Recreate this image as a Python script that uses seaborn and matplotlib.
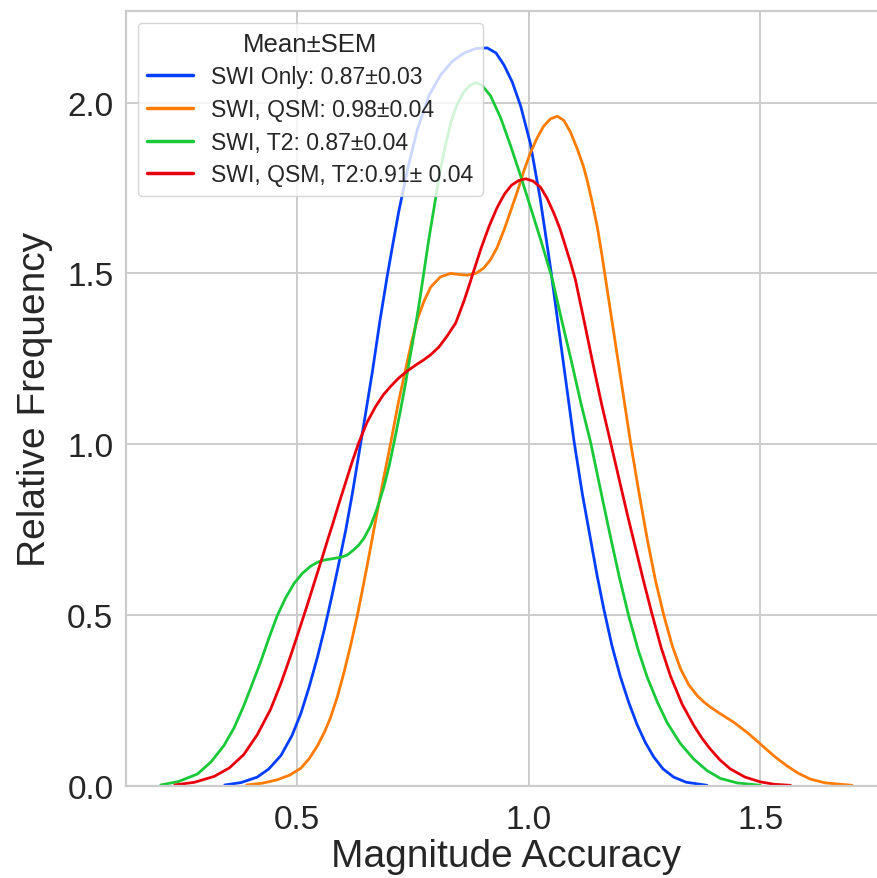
import matplotlib
matplotlib.use("Agg")
import matplotlib.pyplot as plt
import pandas as pd
import seaborn as sns

# Kernel density curves of magnitude accuracy for each input combination
labels = [
    "SWI Only: 0.87\u00b10.03",
    "SWI, QSM: 0.98\u00b10.04",
    "SWI, T2: 0.87\u00b10.04",
    "SWI, QSM, T2:0.91\u00b1 0.04",
]

swi_x = [0.345, 0.380, 0.415, 0.440, 0.466, 0.490, 0.509, 0.527, 0.545, 0.560,
         0.575, 0.590, 0.606, 0.620, 0.634, 0.648, 0.663, 0.680, 0.695, 0.708,
         0.720, 0.740, 0.760, 0.785, 0.810, 0.835, 0.861, 0.886, 0.911, 0.930,
         0.947, 0.965, 0.983, 1.004, 1.025, 1.047, 1.072, 1.098, 1.116, 1.134,
         1.148, 1.162, 1.180, 1.198, 1.216, 1.234, 1.252, 1.270, 1.290, 1.313,
         1.340, 1.385]
swi_y = [0.003, 0.010, 0.026, 0.050, 0.089, 0.148, 0.212, 0.290, 0.378, 0.460,
         0.550, 0.645, 0.750, 0.855, 0.970, 1.085, 1.210, 1.365, 1.490, 1.590,
         1.680, 1.810, 1.920, 2.020, 2.080, 2.120, 2.145, 2.158, 2.160, 2.145,
         2.110, 2.060, 1.990, 1.880, 1.720, 1.520, 1.270, 1.010, 0.855, 0.720,
         0.615, 0.520, 0.410, 0.320, 0.245, 0.180, 0.127, 0.085, 0.050, 0.026,
         0.011, 0.002]

qsm_x = [0.392, 0.425, 0.458, 0.485, 0.509, 0.527, 0.545, 0.560, 0.573, 0.588,
         0.602, 0.617, 0.631, 0.642, 0.652, 0.661, 0.670, 0.686, 0.703, 0.719,
         0.735, 0.748, 0.760, 0.775, 0.789, 0.810, 0.832, 0.850, 0.868, 0.886,
         0.903, 0.918, 0.932, 0.948, 0.962, 0.976, 0.990, 1.004, 1.018, 1.032,
         1.047, 1.062, 1.076, 1.090, 1.105, 1.118, 1.126, 1.137, 1.148, 1.157,
         1.166, 1.184, 1.202, 1.220, 1.238, 1.256, 1.274, 1.292, 1.310, 1.328,
         1.346, 1.364, 1.378, 1.392, 1.414, 1.442, 1.473, 1.504, 1.530, 1.557,
         1.582, 1.608, 1.640, 1.698]
qsm_y = [0.003, 0.008, 0.018, 0.032, 0.052, 0.080, 0.118, 0.158, 0.200, 0.262,
         0.332, 0.415, 0.500, 0.575, 0.645, 0.710, 0.775, 0.890, 1.005, 1.120,
         1.220, 1.300, 1.365, 1.420, 1.460, 1.490, 1.500, 1.497, 1.495, 1.500,
         1.515, 1.540, 1.575, 1.630, 1.685, 1.740, 1.800, 1.853, 1.895, 1.930,
         1.952, 1.960, 1.948, 1.915, 1.865, 1.815, 1.775, 1.710, 1.638, 1.565,
         1.485, 1.325, 1.165, 1.005, 0.860, 0.722, 0.600, 0.498, 0.410, 0.342,
         0.295, 0.264, 0.246, 0.231, 0.211, 0.187, 0.155, 0.118, 0.087, 0.059,
         0.037, 0.020, 0.009, 0.002]

t2_x = [0.207, 0.245, 0.286, 0.315, 0.343, 0.365, 0.386, 0.404, 0.422, 0.440,
        0.458, 0.476, 0.494, 0.512, 0.530, 0.545, 0.559, 0.572, 0.585, 0.597,
        0.609, 0.622, 0.634, 0.645, 0.659, 0.673, 0.688, 0.700, 0.713, 0.724,
        0.735, 0.745, 0.753, 0.764, 0.774, 0.785, 0.796, 0.808, 0.820, 0.833,
        0.846, 0.860, 0.873, 0.886, 0.900, 0.918, 0.940, 0.961, 0.983, 1.004,
        1.027, 1.051, 1.072, 1.093, 1.113, 1.134, 1.154, 1.175, 1.196, 1.216,
        1.236, 1.256, 1.278, 1.299, 1.327, 1.356, 1.385, 1.414, 1.450, 1.500]
t2_y = [0.003, 0.013, 0.035, 0.070, 0.118, 0.170, 0.235, 0.298, 0.362, 0.432,
        0.498, 0.550, 0.592, 0.622, 0.643, 0.655, 0.661, 0.664, 0.667, 0.670,
        0.676, 0.690, 0.705, 0.725, 0.760, 0.810, 0.875, 0.940, 1.025, 1.100,
        1.180, 1.260, 1.320, 1.410, 1.500, 1.600, 1.690, 1.790, 1.870, 1.945,
        1.995, 2.030, 2.050, 2.058, 2.050, 2.020, 1.955, 1.875, 1.785, 1.695,
        1.595, 1.485, 1.360, 1.240, 1.120, 1.005, 0.875, 0.740, 0.610, 0.498,
        0.400, 0.318, 0.245, 0.185, 0.125, 0.079, 0.045, 0.022, 0.009, 0.002]

all_x = [0.237, 0.280, 0.322, 0.355, 0.386, 0.415, 0.444, 0.466, 0.487, 0.505,
         0.523, 0.538, 0.552, 0.565, 0.578, 0.592, 0.606, 0.620, 0.634, 0.652,
         0.670, 0.687, 0.703, 0.721, 0.739, 0.757, 0.775, 0.789, 0.807, 0.825,
         0.843, 0.861, 0.872, 0.882, 0.898, 0.915, 0.932, 0.948, 0.963, 0.979,
         0.994, 1.010, 1.026, 1.040, 1.055, 1.068, 1.080, 1.091, 1.101, 1.120,
         1.139, 1.158, 1.177, 1.195, 1.213, 1.231, 1.248, 1.266, 1.286, 1.306,
         1.331, 1.356, 1.374, 1.392, 1.413, 1.435, 1.467, 1.500, 1.530, 1.565]
all_y = [0.003, 0.011, 0.028, 0.053, 0.092, 0.150, 0.225, 0.300, 0.381, 0.455,
         0.530, 0.595, 0.655, 0.712, 0.768, 0.830, 0.890, 0.950, 1.005, 1.065,
         1.110, 1.145, 1.170, 1.195, 1.215, 1.232, 1.248, 1.262, 1.285, 1.318,
         1.355, 1.420, 1.465, 1.508, 1.575, 1.638, 1.692, 1.732, 1.758, 1.772,
         1.777, 1.770, 1.752, 1.720, 1.675, 1.630, 1.578, 1.530, 1.482, 1.360,
         1.235, 1.115, 1.005, 0.900, 0.795, 0.695, 0.600, 0.505, 0.405, 0.322,
         0.240, 0.178, 0.140, 0.108, 0.076, 0.050, 0.026, 0.012, 0.005, 0.002]

frames = []
for lab, xs, ys in zip(labels, [swi_x, qsm_x, t2_x, all_x],
                       [swi_y, qsm_y, t2_y, all_y]):
    frames.append(pd.DataFrame({"accuracy": xs, "density": ys, "group": lab}))
df = pd.concat(frames, ignore_index=True)

sns.set_theme(style="whitegrid")
plt.rcParams["font.family"] = ["Liberation Sans", "DejaVu Sans"]
plt.rcParams["axes.edgecolor"] = "#cccccc"
plt.rcParams["grid.color"] = "#cccccc"

fig = plt.figure(figsize=(8.78, 8.79), dpi=100)
ax = fig.add_axes([126 / 878, (879 - 787) / 879, (887 - 126) / 878, (787 - 12) / 879])

palette = sns.color_palette("bright", 4)
sns.lineplot(data=df, x="accuracy", y="density", hue="group", palette=palette,
             estimator=None, sort=False, linewidth=2.0, ax=ax)

ax.set_xlim(0.132, 1.773)
ax.set_ylim(0, 2.268)
ax.set_xticks([0.5, 1.0, 1.5])
ax.set_yticks([0.0, 0.5, 1.0, 1.5, 2.0])
ax.tick_params(axis="both", labelsize=24, colors="#262626", length=0)
ax.tick_params(axis="x", pad=13)
ax.tick_params(axis="y", pad=9)
ax.set_xlabel("Magnitude Accuracy", fontsize=28, color="#262626", labelpad=2)
ax.set_ylabel("Relative Frequency", fontsize=28, color="#262626", labelpad=10)
ax.grid(True, linewidth=1.4)
for s in ax.spines.values():
    s.set_linewidth(1.6)

handles, labs = ax.get_legend_handles_labels()
leg = ax.legend(handles, labs, title="Mean\u00b1SEM", loc="upper left",
                fontsize=16.6, title_fontsize=18.5, framealpha=0.8,
                handlelength=2.0, handletextpad=0.8, borderaxespad=0.5,
                labelspacing=0.42)
for line in leg.get_lines():
    line.set_linewidth(2.5)

fig.savefig("out.png", dpi=100)
